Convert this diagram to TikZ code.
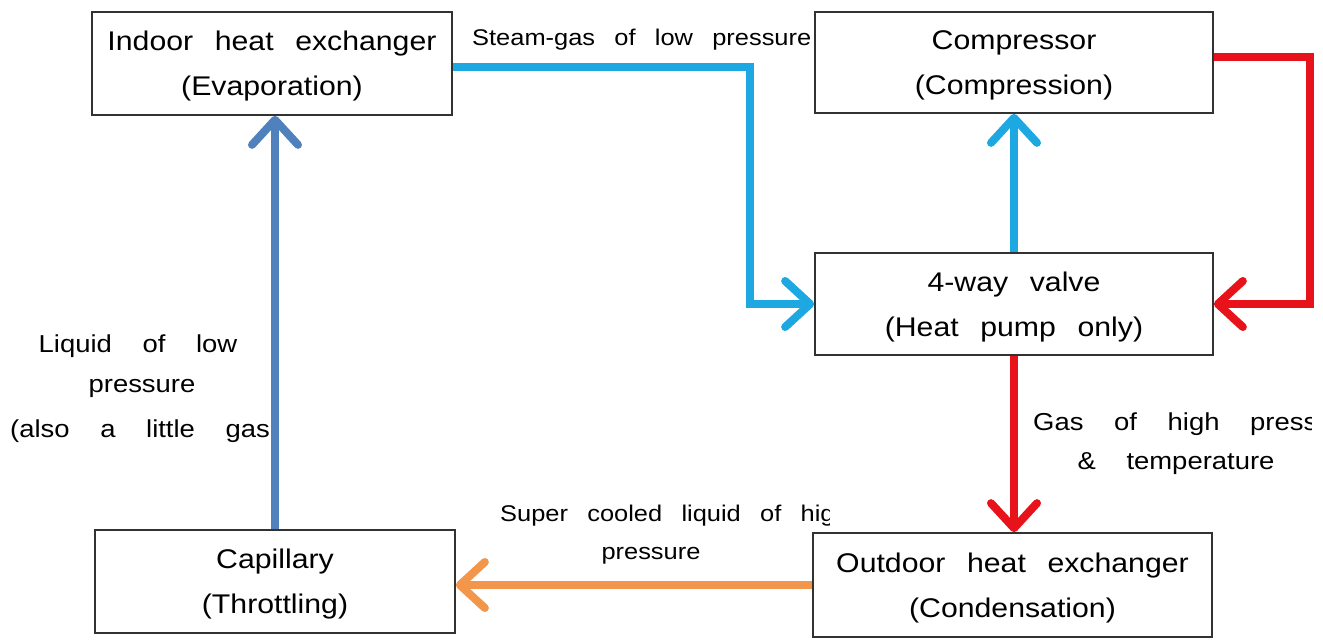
\documentclass[tikz,border=0pt]{standalone}
\usepackage{fontspec}
\setmainfont{Liberation Sans}[FakeStretch=1.12]
\usetikzlibrary{arrows.meta}
\definecolor{cyanA}{RGB}{29,168,226}
\definecolor{redA}{RGB}{232,18,26}
\definecolor{orangeA}{RGB}{242,150,75}
\definecolor{steelA}{RGB}{79,129,189}
\definecolor{boxgray}{RGB}{50,50,50}
\newcommand\boxfont{\fontsize{27}{45}\selectfont\spaceskip=0.8em\relax}
\newcommand\lblfont{\fontsize{22.7}{40}\selectfont\spaceskip=0.85em\relax}
\newcommand\sidefont{\fontsize{24.5}{42}\selectfont\spaceskip=1.25em\relax}
\tikzset{
  boxnode/.style={draw=boxgray,line width=1.7pt,fill=white,inner sep=0pt,align=center,text depth=0pt,font=\boxfont},
  flow/.style={line width=8pt,-{Straight Barb[length=25pt,width=46pt,round]}},
  lbl/.style={inner sep=0pt,font=\lblfont},
  sidelbl/.style={inner sep=0pt,font=\sidefont},
}
\begin{document}
\begin{tikzpicture}[x=1pt,y=-1pt]
\useasboundingbox (0,0) rectangle (1323,640);
% labels
\node[lbl,anchor=west] (steam) at (472,40) {Steam-gas of low pressure};
\node[sidelbl] (liq1) at (138,346) {Liquid of low};
\node[sidelbl] (liq2) at (142,388) {pressure};
\begin{scope}
  \clip (0,400) rectangle (271,460);
  \node[sidelbl,anchor=west] (liq3) at (10,431) {(also a little gas};
\end{scope}
\begin{scope}
  \clip (1000,395) rectangle (1311,450);
  \node[sidelbl,anchor=west] (gas1) at (1033,424) {Gas of high press};
\end{scope}
\node[sidelbl] (gas2) at (1176,464) {\& temperature};
\begin{scope}
  \clip (480,490) rectangle (829,535);
  \node[lbl,anchor=west] (sc1) at (500,516) {Super cooled liquid of hig};
\end{scope}
\node[lbl] (sc2) at (651,556) {pressure};
% boxes
\node[boxnode,minimum width=360pt,minimum height=103pt] (ind) at (272,63.5) {Indoor heat exchanger\\(Evaporation)};
\node[boxnode,minimum width=398pt,minimum height=101pt] (cmp) at (1014,62.5) {Compressor\\(Compression)};
\node[boxnode,minimum width=398pt,minimum height=102pt] (fw) at (1014,304) {4-way valve\\(Heat pump only)};
\node[boxnode,minimum width=360pt,minimum height=103pt] (cap) at (275,581.5) {Capillary\\(Throttling)};
\node[boxnode,minimum width=399pt,minimum height=104pt] (out) at (1012.5,585) {Outdoor heat exchanger\\(Condensation)};
% bends
\coordinate (k1) at (750,304);
\coordinate (k2) at (1310,304);
% connectors
\draw[flow,cyanA] ([yshift=-3.5pt]ind.east) -| (k1) -- (fw.west);
\draw[flow,cyanA] (fw.north) -- (cmp.south);
\draw[flow,redA] ([yshift=6pt]cmp.east) -| (k2) -- (fw.east);
\draw[flow,redA] (fw.south) -- (fw.south |- out.north);
\draw[flow,orangeA] (out.west) -- (out.west -| cap.east);
\draw[flow,steelA] (cap.north) -- (cap.north |- ind.south);
\end{tikzpicture}
\end{document}
